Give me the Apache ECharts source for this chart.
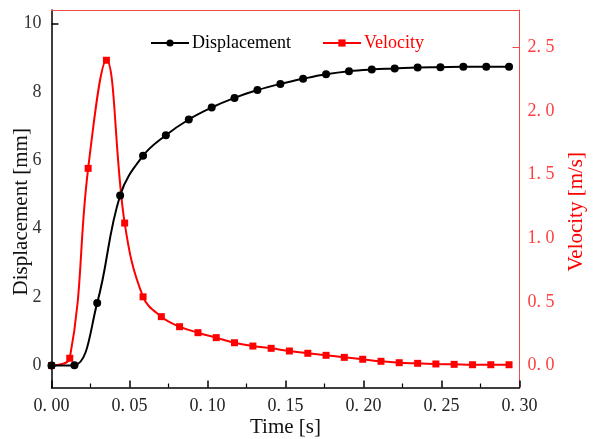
<!DOCTYPE html>
<html>
<head>
<meta charset="utf-8">
<script src="https://cdn.jsdelivr.net/npm/echarts@6/dist/echarts.min.js"></script>
<style>html,body{margin:0;padding:0;background:#fff;}#c{width:593px;height:439px;}</style>
</head>
<body>
<div id="c"></div>
<script>
const dispTime = [0, 0.0147, 0.0293, 0.044, 0.0587, 0.0733, 0.088, 0.1027, 0.1173, 0.132, 0.1467, 0.1613, 0.176, 0.1907, 0.2053, 0.22, 0.2347, 0.2493, 0.264, 0.2787, 0.2933];
const dispValues = [0, 0.01, 1.83, 4.97, 6.13, 6.73, 7.19, 7.54, 7.82, 8.05, 8.23, 8.38, 8.51, 8.6, 8.65, 8.68, 8.71, 8.72, 8.73, 8.73, 8.73];
const velTime = [0, 0.0117, 0.0235, 0.0352, 0.0469, 0.0587, 0.0704, 0.0821, 0.0939, 0.1056, 0.1173, 0.1291, 0.1408, 0.1525, 0.1643, 0.176, 0.1877, 0.1995, 0.2112, 0.2229, 0.2347, 0.2464, 0.2581, 0.2699, 0.2816, 0.2933];
const velValues = [0, 0.057, 1.55, 2.4, 1.12, 0.54, 0.384, 0.305, 0.258, 0.219, 0.179, 0.153, 0.135, 0.114, 0.096, 0.08, 0.064, 0.049, 0.033, 0.022, 0.017, 0.012, 0.009, 0.006, 0.006, 0.006];
const xTicks = [0, 0.05, 0.10, 0.15, 0.20, 0.25, 0.30];
const leftTicks = [0, 2, 4, 6, 8, 10];
const rightTicks = [0, 0.5, 1.0, 1.5, 2.0, 2.5];

const FONT = '"Liberation Serif", "Times New Roman", serif';
const chart = echarts.init(document.getElementById('c'), null, {renderer: 'canvas'});
chart.setOption({
  animation: false,
  textStyle: {fontFamily: FONT},
  grid: {left: 51.5, right: 73.5, top: 10, bottom: 51.5, containLabel: false, outerBoundsMode: 'none'},
  legend: {
    data: [
      {name: 'Displacement', textStyle: {color: '#000'}},
      {name: 'Velocity', textStyle: {color: '#ff0000'}}
    ],
    left: 145, top: 29,
    itemWidth: 38, itemHeight: 9, itemGap: 31,
    textStyle: {fontFamily: FONT, fontSize: 18, padding: [0, 0, 0, -2]}
  },
  xAxis: [{
    type: 'value', min: 0, max: 0.3, interval: 0.05,
    name: 'Time [s]', nameLocation: 'middle', nameGap: 29, nameMoveOverlap: false,
    nameTextStyle: {fontFamily: FONT, fontSize: 21, color: '#111'},
    axisLine: {onZero: false, lineStyle: {color: '#000', width: 1.5}},
    axisTick: {inside: true, length: 7, lineStyle: {color: '#000', width: 1.5}, customValues: xTicks},
    minorTick: {show: true, splitNumber: 2, length: 4, lineStyle: {color: '#000', width: 1.2}},
    axisLabel: {customValues: xTicks, margin: 10, fontFamily: FONT, fontSize: 18, color: '#222',
      formatter: v => v.toFixed(2).replace('.', '. ')},
    splitLine: {show: false}
  }, {
    type: 'value', min: 0, max: 0.3, position: 'top',
    axisLine: {onZero: false, lineStyle: {color: '#f04848', width: 1}},
    axisTick: {show: false}, axisLabel: {show: false}, splitLine: {show: false}
  }],
  yAxis: [{
    type: 'value', min: -0.643, max: 10.39, position: 'left',
    name: 'Displacement [mm]', nameLocation: 'middle', nameGap: 20, nameRotate: 90, nameMoveOverlap: false,
    nameTextStyle: {fontFamily: FONT, fontSize: 21, color: '#111', padding: [0, 26, 0, 0]},
    axisLine: {show: true, onZero: false, lineStyle: {color: '#000', width: 1.5}},
    axisTick: {show: true, inside: true, length: 7, customValues: [10], lineStyle: {color: '#000', width: 1.5}},
    axisLabel: {customValues: leftTicks, margin: 10, fontFamily: FONT, fontSize: 18, color: '#333'},
    splitLine: {show: false}
  }, {
    type: 'value', min: -0.173, max: 2.795, position: 'right',
    name: 'Velocity [m/s]', nameLocation: 'middle', nameGap: 46, nameRotate: 90, nameMoveOverlap: false,
    nameTextStyle: {fontFamily: FONT, fontSize: 21, color: '#ff0000', padding: [0, 26, 0, 0]},
    axisLine: {show: true, onZero: false, lineStyle: {color: '#f04848', width: 1}},
    axisTick: {show: true, inside: true, length: 7, customValues: [2.5], lineStyle: {color: '#f04848', width: 1}},
    axisLabel: {customValues: rightTicks, margin: 8, fontFamily: FONT, fontSize: 18, color: '#ff4040',
      formatter: v => v.toFixed(1).replace('.', '. ')},
    splitLine: {show: false}
  }],
  series: [{
    name: 'Velocity', type: 'line', xAxisIndex: 0, yAxisIndex: 1,
    data: velTime.map((t, i) => [t, velValues[i]]),
    smooth: 0.4, symbol: 'rect', symbolSize: 7,
    itemStyle: {color: '#ff0000'}, lineStyle: {color: '#ff0000', width: 2}, z: 2
  }, {
    name: 'Displacement', type: 'line', xAxisIndex: 0, yAxisIndex: 0,
    data: dispTime.map((t, i) => [t, dispValues[i]]),
    smooth: 0.4, symbol: 'circle', symbolSize: 8,
    itemStyle: {color: '#000'}, lineStyle: {color: '#000', width: 2}, z: 3
  }]
});
</script>
</body>
</html>
